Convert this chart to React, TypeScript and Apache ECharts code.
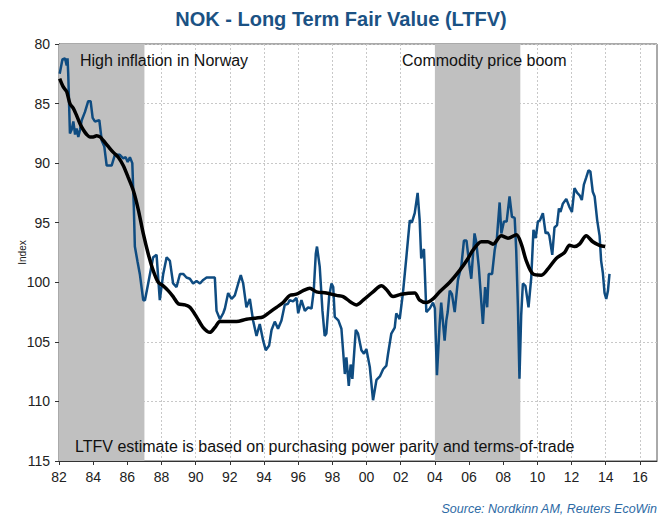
import React, { useEffect, useRef } from "react";
import * as echarts from "echarts";

// Monthly-ish NOK index (decimal year, index value)
const nokYears = [
  1982.04, 1982.2, 1982.35, 1982.45, 1982.5, 1982.54, 1982.64, 1982.74, 1982.84, 1982.94,
  1983.03, 1983.13, 1983.23, 1983.33, 1983.52, 1983.71, 1983.85, 1983.97, 1984.1, 1984.36,
  1984.5, 1984.65, 1984.79, 1985.08, 1985.27, 1985.56, 1985.76, 1985.9, 1986.02, 1986.15,
  1986.29, 1986.38, 1986.44, 1986.6, 1986.73, 1986.93, 1987.03, 1987.22, 1987.51, 1987.71,
  1987.9, 1988.1, 1988.3, 1988.49, 1988.68, 1988.88, 1989.08, 1989.27, 1989.46, 1989.66,
  1989.85, 1990.05, 1990.25, 1990.44, 1990.64, 1990.93, 1991.12, 1991.22, 1991.42, 1991.61,
  1991.71, 1991.9, 1992.1, 1992.29, 1992.49, 1992.64, 1992.78, 1992.97, 1993.17, 1993.36,
  1993.56, 1993.75, 1993.95, 1994.1, 1994.3, 1994.44, 1994.63, 1994.82, 1995.02, 1995.21,
  1995.4, 1995.5, 1995.7, 1995.9, 1996.0, 1996.19, 1996.39, 1996.58, 1996.78, 1996.91,
  1997.03, 1997.1, 1997.26, 1997.42, 1997.55, 1997.65, 1997.81, 1997.95, 1998.05, 1998.14,
  1998.35, 1998.53, 1998.73, 1998.82, 1998.96, 1999.07, 1999.17, 1999.37, 1999.5, 1999.7,
  1999.85, 1999.99, 2000.19, 2000.38, 2000.58, 2000.78, 2000.97, 2001.16, 2001.26, 2001.45,
  2001.65, 2001.74, 2001.94, 2002.13, 2002.33, 2002.53, 2002.65, 2002.82, 2002.99, 2003.11,
  2003.2, 2003.36, 2003.5, 2003.7, 2003.89, 2004.0, 2004.12, 2004.28, 2004.37, 2004.57,
  2004.67, 2004.75, 2004.87, 2005.0, 2005.16, 2005.35, 2005.55, 2005.7, 2005.85, 2006.03,
  2006.13, 2006.32, 2006.42, 2006.57, 2006.81, 2006.94, 2007.06, 2007.15, 2007.35, 2007.5,
  2007.63, 2007.79, 2007.89, 2008.04, 2008.2, 2008.37, 2008.51, 2008.67, 2008.76, 2008.86,
  2008.95, 2009.05, 2009.15, 2009.3, 2009.48, 2009.64, 2009.77, 2009.9, 2010.03, 2010.15,
  2010.32, 2010.48, 2010.6, 2010.7, 2010.87, 2011.0, 2011.15, 2011.26, 2011.35, 2011.49,
  2011.69, 2011.88, 2012.02, 2012.17, 2012.33, 2012.47, 2012.6, 2012.72, 2012.86, 2012.99,
  2013.1, 2013.24, 2013.35, 2013.5, 2013.64, 2013.73, 2013.83, 2013.93, 2014.03, 2014.13,
  2014.22,
];
const nokValues = [
  82.5, 81.3, 81.2, 81.8, 81.2, 82.5, 87.5, 87.2, 86.5, 87.6,
  87.1, 87.8, 87.2, 86.4, 85.7, 84.8, 84.8, 86.2, 86.5, 86.4,
  88.1, 88.6, 90.2, 90.2, 89.3, 89.3, 89.6, 89.5, 89.9, 89.5,
  90.0, 93.7, 97.0, 98.3, 99.3, 101.5, 101.5, 100.1, 97.9, 97.7,
  101.5, 99.3, 97.9, 98.2, 100.1, 100.4, 99.3, 99.3, 99.6, 99.7,
  100.1, 99.9, 100.1, 99.8, 99.6, 99.6, 99.6, 102.4, 103.1, 102.6,
  102.2, 100.9, 101.4, 101.1, 100.1, 99.4, 100.1, 102.1, 101.4, 103.2,
  104.5, 103.5, 104.9, 105.7, 105.3, 104.0, 103.3, 103.9, 103.2, 101.9,
  101.8, 101.5, 101.6, 101.3, 102.6, 101.5, 102.4, 102.1, 102.2, 100.7,
  97.6, 97.0, 98.7, 102.4, 104.5, 104.3, 101.2, 100.1, 100.4, 102.9,
  103.2, 103.9, 107.7, 106.3, 108.7, 106.9, 108.1, 104.0, 104.3, 105.7,
  106.0, 105.6, 107.1, 109.9, 108.2, 107.9, 107.3, 107.0, 106.0, 104.3,
  103.8, 102.6, 103.1, 100.9, 97.9, 94.8, 95.0, 94.2, 92.5, 94.8,
  98.0, 97.2, 102.5, 102.2, 101.7, 102.2, 107.8, 103.5, 101.7, 104.9,
  103.2, 102.5, 100.7, 101.0, 102.5, 99.8, 98.6, 96.5, 96.5, 98.7,
  99.7, 95.9, 96.6, 98.7, 103.5, 100.4, 102.1, 99.3, 99.3, 97.3,
  96.3, 93.3, 95.9, 94.9, 94.9, 92.8, 94.5, 94.6, 97.3, 102.1,
  108.1, 102.8, 100.1, 100.3, 102.1, 99.6, 95.6, 96.3, 94.9, 94.8,
  94.2, 95.9, 95.8, 96.1, 97.7, 95.4, 95.2, 93.8, 94.1, 93.4,
  93.0, 93.7, 94.1, 92.1, 92.5, 92.7, 93.1, 91.8, 91.2, 90.6,
  90.7, 92.4, 92.8, 94.8, 96.1, 98.2, 99.2, 100.9, 101.4, 100.7,
  99.3,
];

// Long Term Fair Value estimate
const ltfvYears = [
  1982.04, 1982.25, 1982.45, 1982.64, 1982.84, 1983.03, 1983.23, 1983.42, 1983.62, 1983.81,
  1984.0, 1984.2, 1984.4, 1984.59, 1984.88, 1985.18, 1985.47, 1985.76, 1986.05, 1986.35,
  1986.64, 1986.93, 1987.22, 1987.51, 1987.81, 1988.1, 1988.39, 1988.68, 1988.98, 1989.37,
  1989.66, 1990.05, 1990.44, 1990.83, 1991.12, 1991.42, 1991.81, 1992.39, 1992.97, 1993.56,
  1993.95, 1994.34, 1994.73, 1995.12, 1995.51, 1995.9, 1996.29, 1996.68, 1997.07, 1997.65,
  1998.24, 1998.63, 1999.11, 1999.4, 1999.8, 2000.38, 2000.87, 2001.16, 2001.55, 2002.04,
  2002.82, 2003.11, 2003.5, 2003.89, 2004.28, 2004.87, 2005.45, 2005.94, 2006.23, 2006.72,
  2007.1, 2007.4, 2007.89, 2008.28, 2008.77, 2009.06, 2009.35, 2009.74, 2010.23, 2010.71,
  2011.1, 2011.59, 2011.88, 2012.17, 2012.46, 2012.86, 2013.24, 2013.63, 2013.97,
];
const ltfvValues = [
  82.9, 83.6, 84.0, 85.0, 85.4, 86.0, 86.7, 87.2, 87.6, 87.8,
  87.8, 87.7, 87.8, 88.1, 88.6, 89.1, 89.5, 90.2, 91.2, 92.3,
  93.9, 95.9, 97.6, 99.0, 100.0, 100.3, 100.7, 101.2, 101.8, 101.9,
  102.1, 102.9, 103.8, 104.2, 103.8, 103.3, 103.3, 103.3, 103.1, 103.0,
  102.9, 102.5, 102.1, 101.7, 101.1, 101.0, 100.7, 100.5, 100.8, 100.9,
  101.1, 101.2, 101.7, 101.9, 101.5, 100.8, 100.3, 100.6, 101.2, 101.0,
  100.9, 101.5, 101.7, 101.4, 100.8, 100.0, 99.0, 98.0, 97.3, 96.6,
  96.6, 96.8, 96.1, 96.3, 96.0, 96.8, 98.2, 99.3, 99.4, 98.7,
  98.0, 97.5, 96.9, 97.0, 96.8, 96.1, 96.6, 96.9, 97.0,
];

// Shaded periods
const shadedPeriods = [
  [1982, 1987],
  [2004, 2009],
];

const xTickYears = [1982, 1984, 1986, 1988, 1990, 1992, 1994, 1996, 1998, 2000, 2002, 2004, 2006, 2008, 2010, 2012, 2014, 2016];

const titleText = "NOK - Long Term Fair Value (LTFV)";
const annotationTop1 = "High inflation in Norway";
const annotationTop2 = "Commodity price boom";
const annotationBottom = "LTFV estimate is based on purchasing power parity and terms-of-trade";
const sourceText = "Source: Nordkinn AM, Reuters EcoWin";

export default function App() {
  const ref = useRef<HTMLDivElement>(null);

  useEffect(() => {
    document.body.style.margin = "0";
    if (!ref.current) return;
    const chart = echarts.init(ref.current, undefined, { renderer: "svg" });

    const nokData = nokYears.map((y, i) => [y, nokValues[i]]);
    const ltfvData = ltfvYears.map((y, i) => [y, ltfvValues[i]]);
    const font = "Liberation Sans, Arial, sans-serif";

    chart.setOption({
      animation: false,
      backgroundColor: "#ffffff",
      title: {
        text: titleText,
        left: 336,
        textAlign: "center",
        top: 4,
        textStyle: {
          fontFamily: font,
          fontSize: 20,
          fontWeight: "bold",
          color: "#1B5284",
        },
      },
      grid: {
        left: 59,
        right: 4,
        top: 44,
        bottom: 54,
        show: true,
        borderColor: "#555555",
        borderWidth: 1,
        backgroundColor: "transparent",
      },
      xAxis: {
        type: "value",
        min: 1982,
        max: 2017,
        interval: 2,
        axisLine: { show: true, onZero: false, lineStyle: { color: "#333333", width: 1 } },
        axisTick: {
          show: true,
          length: 4,
          lineStyle: { color: "#333333" },
          customValues: xTickYears,
        },
        axisLabel: {
          margin: 9,
          fontFamily: font,
          fontSize: 14,
          color: "#222222",
          customValues: xTickYears,
          formatter: (v: number) => String(Math.round(v) % 100).padStart(2, "0"),
        },
        splitLine: {
          show: true,
          lineStyle: { color: "#C8C8C8", type: [2, 2], width: 1 },
        },
      },
      yAxis: {
        type: "value",
        inverse: true,
        min: 80,
        max: 115,
        interval: 5,
        name: "Index",
        nameLocation: "middle",
        nameGap: 32,
        nameRotate: 90,
        nameMoveOverlap: false,
        nameTextStyle: { fontFamily: font, fontSize: 10, color: "#222222" },
        axisLine: { show: true, lineStyle: { color: "#333333", width: 1 } },
        axisTick: { show: true, length: 4, lineStyle: { color: "#333333" } },
        axisLabel: {
          margin: 9,
          fontFamily: font,
          fontSize: 14,
          color: "#222222",
        },
        splitLine: {
          show: true,
          lineStyle: { color: "#C8C8C8", type: [2, 2], width: 1 },
        },
      },
      series: [
        {
          name: "shade",
          type: "line",
          data: [],
          z: 1,
          silent: true,
          markArea: {
            silent: true,
            itemStyle: { color: "#C0C0C0", opacity: 1 },
            data: shadedPeriods.map(([a, b]) => [{ xAxis: a }, { xAxis: b }]),
          },
        },
        {
          name: "NOK",
          type: "line",
          data: nokData,
          z: 3,
          showSymbol: false,
          symbol: "none",
          lineStyle: { color: "#0F4C81", width: 2.5 },
        },
        {
          name: "LTFV",
          type: "line",
          data: ltfvData,
          z: 4,
          showSymbol: false,
          symbol: "none",
          smooth: 0.3,
          lineStyle: { color: "#000000", width: 3.5 },
        },
      ],
      graphic: [
        {
          type: "text",
          x: 80,
          y: 60,
          z: 10,
          style: {
            text: annotationTop1,
            font: `16px ${font}`,
            fill: "#111111",
            textAlign: "left",
            textVerticalAlign: "middle",
            align: "left",
            verticalAlign: "middle",
          },
        },
        {
          type: "text",
          x: 402,
          y: 60,
          z: 10,
          style: {
            text: annotationTop2,
            font: `16px ${font}`,
            fill: "#111111",
            textAlign: "left",
            textVerticalAlign: "middle",
            align: "left",
            verticalAlign: "middle",
          },
        },
        {
          type: "text",
          x: 75,
          y: 446,
          z: 10,
          style: {
            text: annotationBottom,
            font: `16px ${font}`,
            fill: "#111111",
            textAlign: "left",
            textVerticalAlign: "middle",
            align: "left",
            verticalAlign: "middle",
          },
        },
        {
          type: "text",
          x: 657,
          y: 509,
          z: 10,
          style: {
            text: sourceText,
            font: `italic 12.5px ${font}`,
            fill: "#2D6AA5",
            textAlign: "right",
            textVerticalAlign: "middle",
            align: "right",
            verticalAlign: "middle",
          },
        },
      ],
    });

    return () => {
      chart.dispose();
    };
  }, []);

  return <div ref={ref} style={{ width: 661, height: 515 }} />;
}
